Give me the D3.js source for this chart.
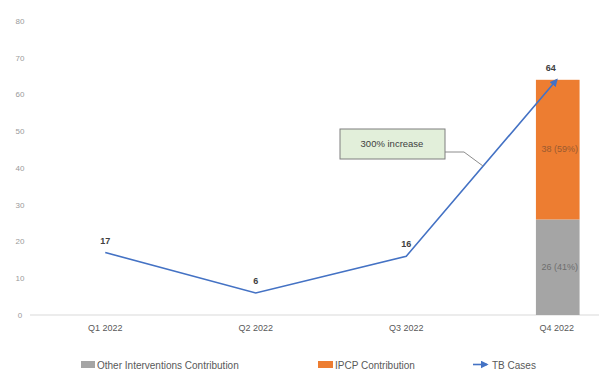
<!DOCTYPE html>
<html><head><meta charset="utf-8">
<script src="https://cdn.jsdelivr.net/npm/d3@7"></script>
<style>body{margin:0;background:#fff}svg{display:block}</style>
</head><body>
<script>
const categories = ["Q1 2022","Q2 2022","Q3 2022","Q4 2022"];
const tbCases = [17, 6, 16, 64];
const otherContribution = [null, null, null, 26];
const ipcpContribution = [null, null, null, 38];
const barLabels = { other: "26 (41%)", ipcp: "38 (59%)" };
const yTicks = [0,10,20,30,40,50,60,70,80];
const annotation = "300% increase";
const legendLabels = ["Other Interventions Contribution","IPCP Contribution","TB Cases"];

const W = 599, H = 369;
const svg = d3.select("body").append("svg").attr("width", W).attr("height", H);
const font = "Liberation Sans, Arial, sans-serif";

const x = d3.scaleBand().domain(categories).range([31, 633]).padding(0);
const cx = c => x(c) + x.bandwidth() / 2;
const y = d3.scaleLinear().domain([0, 80]).range([315, 21]);
const barW = x.bandwidth() * 0.29;

// y tick labels
svg.append("g").selectAll("text").data(yTicks).join("text")
  .attr("x", 20).attr("y", d => y(d)).attr("dy", "0.35em")
  .attr("text-anchor", "middle").attr("font-family", font).attr("font-size", 8)
  .attr("fill", "#9a9a9a").text(d => d);

// baseline
svg.append("line").attr("x1", 30).attr("x2", 599).attr("y1", y(0)).attr("y2", y(0))
  .attr("stroke", "#d9d9d9").attr("stroke-width", 1);

// x labels
svg.append("g").selectAll("text").data(categories).join("text")
  .attr("x", d => cx(d) - 1).attr("y", 331)
  .attr("text-anchor", "middle").attr("font-family", font).attr("font-size", 9)
  .attr("fill", "#595959").text(d => d);

// stacked bars
categories.forEach((c, i) => {
  if (otherContribution[i] == null) return;
  const o = otherContribution[i], p = ipcpContribution[i];
  svg.append("rect").attr("x", cx(c) - barW / 2).attr("width", barW)
    .attr("y", y(o)).attr("height", y(0) - y(o)).attr("fill", "#a5a5a5");
  svg.append("rect").attr("x", cx(c) - barW / 2).attr("width", barW)
    .attr("y", y(o + p)).attr("height", y(o) - y(o + p)).attr("fill", "#ed7d31");
  svg.append("text").attr("x", cx(c) + 2).attr("y", y(o / 2)).attr("dy", "0.35em")
    .attr("text-anchor", "middle").attr("font-family", font).attr("font-size", 9)
    .attr("fill", "#6e6e6e").text(barLabels.other);
  svg.append("text").attr("x", cx(c) + 2).attr("y", y(o + p / 2) - 1).attr("dy", "0.35em")
    .attr("text-anchor", "middle").attr("font-family", font).attr("font-size", 9)
    .attr("fill", "#9a5a30").text(barLabels.ipcp);
});

// arrow marker
const defs = svg.append("defs");
defs.append("marker").attr("id", "arr").attr("viewBox", "0 0 10 10")
  .attr("refX", 8).attr("refY", 5).attr("markerWidth", 5).attr("markerHeight", 5)
  .attr("orient", "auto").append("path").attr("d", "M0,0 L10,5 L0,10 z").attr("fill", "#4472c4");

// line
const pts = categories.map((c, i) => [cx(c) - 1, y(tbCases[i])]);
svg.append("path").attr("d", d3.line()(pts)).attr("fill", "none")
  .attr("stroke", "#4472c4").attr("stroke-width", 1.6).attr("marker-end", "url(#arr)");

// data labels
svg.append("g").selectAll("text").data(categories).join("text")
  .attr("x", (d, i) => i === 3 ? cx(d) - 7 : cx(d) - 1)
  .attr("y", (d, i) => y(tbCases[i]) - 9)
  .attr("text-anchor", "middle").attr("font-family", font).attr("font-size", 9)
  .attr("font-weight", "bold").attr("fill", "#404040").text((d, i) => tbCases[i]);

// annotation
svg.append("polyline").attr("points", "445,152 464,152 483,166")
  .attr("fill", "none").attr("stroke", "#8c8c8c").attr("stroke-width", 1);
svg.append("rect").attr("x", 340).attr("y", 129).attr("width", 105).attr("height", 30)
  .attr("fill", "#e2efda").attr("stroke", "#7f7f7f").attr("stroke-width", 1);
svg.append("text").attr("x", 392).attr("y", 144).attr("dy", "0.35em")
  .attr("text-anchor", "middle").attr("font-family", font).attr("font-size", 9.5)
  .attr("fill", "#404040").text(annotation);

// legend
const lg = svg.append("g").attr("font-family", font).attr("font-size", 10).attr("fill", "#595959");
lg.append("rect").attr("x", 81).attr("y", 361).attr("width", 14).attr("height", 7).attr("fill", "#a5a5a5");
lg.append("text").attr("x", 97).attr("y", 368.5).text(legendLabels[0]);
lg.append("rect").attr("x", 318).attr("y", 361).attr("width", 15).attr("height", 7).attr("fill", "#ed7d31");
lg.append("text").attr("x", 335).attr("y", 368.5).text(legendLabels[1]);
lg.append("line").attr("x1", 473).attr("x2", 487).attr("y1", 364.5).attr("y2", 364.5)
  .attr("stroke", "#4472c4").attr("stroke-width", 1.6).attr("marker-end", "url(#arr)");
lg.append("text").attr("x", 492).attr("y", 368.5).text(legendLabels[2]);
</script>
</body></html>
